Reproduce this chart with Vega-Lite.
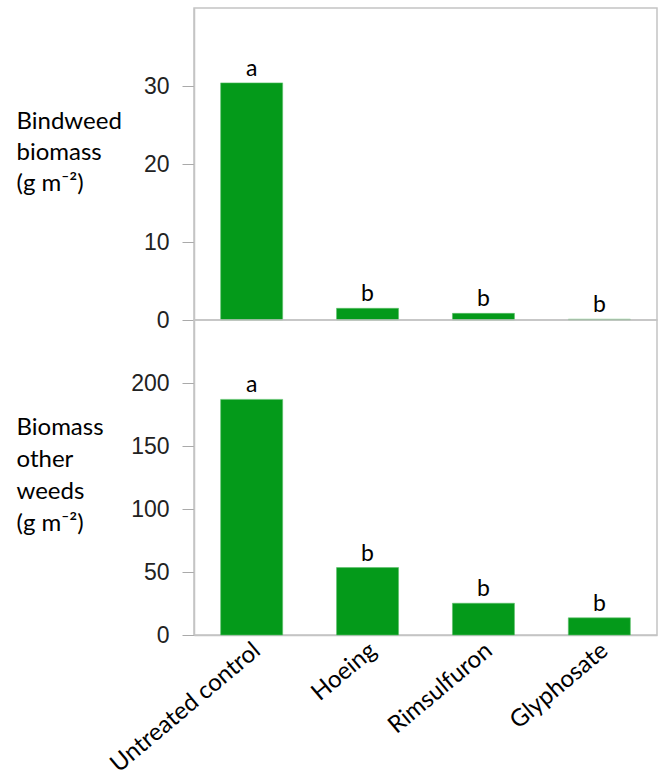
{
  "$schema": "https://vega.github.io/schema/vega-lite/v6.json",
  "background": "white",
  "padding": {"left": 15, "top": 7, "right": 3, "bottom": 0},
  "spacing": 0,
  "bounds": "flush",
  "config": {
    "view": {"stroke": "#c4c4c4", "strokeWidth": 1.5},
    "axis": {"grid": false},
    "concat": {"spacing": 0}
  },
  "datasets": {
    "bindweed": [
      {"treatment": "Untreated control", "biomass": 30.4, "letter": "a"},
      {"treatment": "Hoeing", "biomass": 1.5, "letter": "b"},
      {"treatment": "Rimsulfuron", "biomass": 0.85, "letter": "b"},
      {"treatment": "Glyphosate", "biomass": 0.1, "letter": "b"}
    ],
    "other": [
      {"treatment": "Untreated control", "biomass": 187, "letter": "a"},
      {"treatment": "Hoeing", "biomass": 53.5, "letter": "b"},
      {"treatment": "Rimsulfuron", "biomass": 25.2, "letter": "b"},
      {"treatment": "Glyphosate", "biomass": 13.6, "letter": "b"}
    ]
  },
  "vconcat": [
    {
      "width": 463,
      "height": 312,
      "data": {"name": "bindweed"},
      "encoding": {
        "x": {
          "field": "treatment", "type": "nominal", "sort": null,
          "scale": {"paddingInner": 0.465, "paddingOuter": 0.23},
          "axis": null
        },
        "y": {
          "field": "biomass", "type": "quantitative",
          "scale": {"domain": [0, 40], "nice": false},
          "axis": {
            "values": [0, 10, 20, 30],
            "title": ["Bindweed", "biomass", "(g m⁻²)"],
            "titleAngle": 0, "titleAlign": "left", "titleBaseline": "top",
            "titleX": -178, "titleY": 101,
            "titleFont": "Lato", "titleFontSize": 24, "titleFontWeight": "normal",
            "titleLineHeight": 31, "titleColor": "black",
            "labelFont": "Liberation Sans", "labelFontSize": 23, "labelColor": "#222",
            "labelPadding": 13, "tickSize": 12, "tickColor": "#aaa", "domainColor": "#c4c4c4", "domainWidth": 1.5
          }
        }
      },
      "layer": [
        {"mark": {"type": "bar", "color": "#049a1a", "stroke": "#5cc06a", "strokeWidth": 0.6}},
        {
          "mark": {"type": "text", "baseline": "bottom", "dy": -2, "font": "Lato", "fontSize": 23, "color": "black"},
          "encoding": {"text": {"field": "letter"}}
        }
      ]
    },
    {
      "width": 463,
      "height": 315,
      "data": {"name": "other"},
      "encoding": {
        "x": {
          "field": "treatment", "type": "nominal", "sort": null,
          "scale": {"paddingInner": 0.465, "paddingOuter": 0.23},
          "axis": {
            "title": null, "labelAngle": -40, "labelAlign": "right", "labelBaseline": "top", "ticks": false,
            "labelFont": "Lato", "labelFontSize": 24, "labelColor": "black", "labelLimit": 0,
            "labelOffset": -2, "labelPadding": 3, "domainColor": "#c4c4c4", "domainWidth": 1.5
          }
        },
        "y": {
          "field": "biomass", "type": "quantitative",
          "scale": {"domain": [0, 250], "nice": false},
          "axis": {
            "values": [0, 50, 100, 150, 200],
            "title": ["Biomass", "other", "weeds", "(g m⁻²)"],
            "titleAngle": 0, "titleAlign": "left", "titleBaseline": "top",
            "titleX": -178, "titleY": 95,
            "titleFont": "Lato", "titleFontSize": 24, "titleFontWeight": "normal",
            "titleLineHeight": 32, "titleColor": "black",
            "labelFont": "Liberation Sans", "labelFontSize": 23, "labelColor": "#222",
            "labelPadding": 13, "tickSize": 12, "tickColor": "#aaa", "domainColor": "#c4c4c4", "domainWidth": 1.5
          }
        }
      },
      "layer": [
        {"mark": {"type": "bar", "color": "#049a1a", "stroke": "#5cc06a", "strokeWidth": 0.6}},
        {
          "mark": {"type": "text", "baseline": "bottom", "dy": -2, "font": "Lato", "fontSize": 23, "color": "black"},
          "encoding": {"text": {"field": "letter"}}
        }
      ]
    }
  ]
}
